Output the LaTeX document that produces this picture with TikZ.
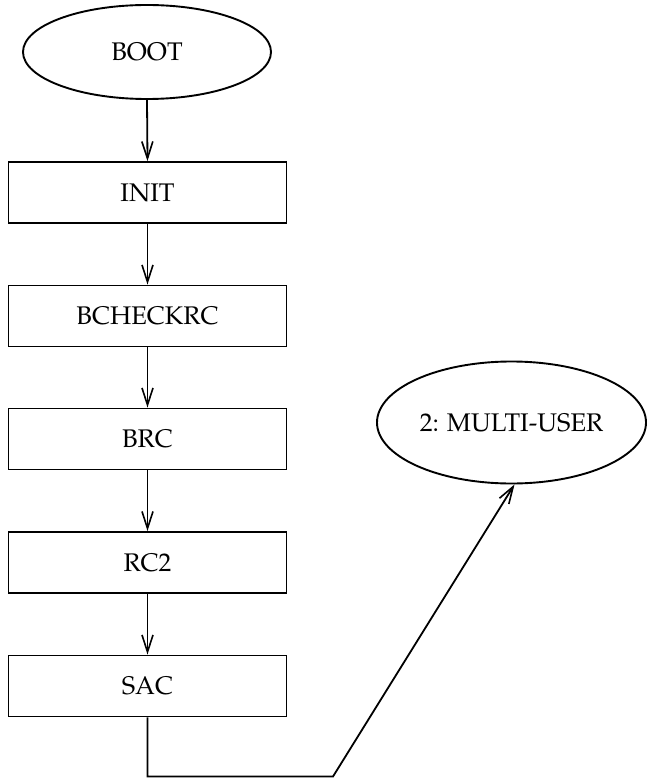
\documentclass[tikz,border=0pt]{standalone}
\usepackage[T1]{fontenc}
\renewcommand{\rmdefault}{ppl}
\usetikzlibrary{shapes.geometric,arrows.meta}
\begin{document}
\begin{tikzpicture}[x=1pt,y=-1pt,
  lbl/.style={font=\fontsize{25.5}{30}\selectfont, inner sep=0pt},
  oval/.style={ellipse, draw, line width=1.9pt, lbl},
  stepbox/.style={rectangle, draw, line width=1.9pt, lbl, minimum width=278pt, minimum height=61pt},
  conn/.style={line width=1.8pt, -{Straight Barb[length=17pt,width=11pt,line width=1.6pt]}}]
\useasboundingbox (0,0) rectangle (646,778);
\node[oval, minimum width=248pt, minimum height=94pt] (boot) at (147,52) {BOOT};
\node[stepbox] (init) at (147.5,192.5) {INIT};
\node[stepbox] (bchk) at (147.5,316) {BCHECKRC};
\node[stepbox] (brc)  at (147.5,439) {BRC};
\node[stepbox] (rc2)  at (147.5,562.5) {RC2};
\node[stepbox] (sac)  at (147.5,686) {SAC};
\node[oval, minimum width=269pt, minimum height=122pt] (multi) at (511.5,422.5) {2: MULTI-USER};
\coordinate (c1) at (147.5,776.5);
\coordinate (c2) at (333,776.5);
\draw[conn] (boot.south) -- (init.north);
\draw[conn] (init) -- (bchk);
\draw[conn] (bchk) -- (brc);
\draw[conn] (brc) -- (rc2);
\draw[conn] (rc2) -- (sac);
\draw[conn] (sac.south) -- (c1) -- (c2) -- ([xshift=3pt]multi.south);
\end{tikzpicture}
\end{document}
